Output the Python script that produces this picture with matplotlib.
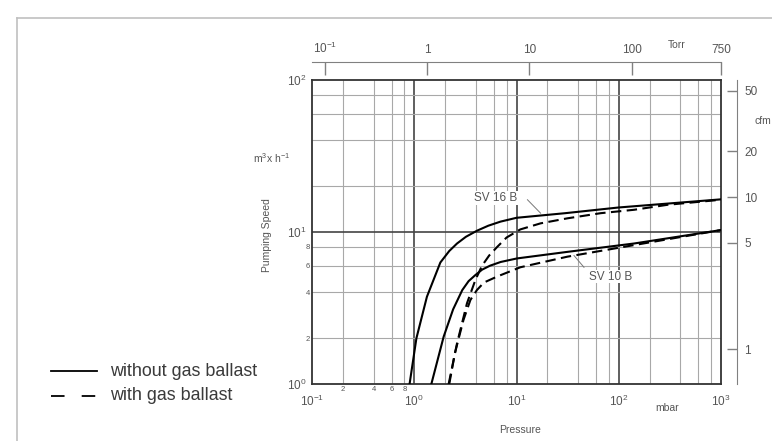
import matplotlib
matplotlib.use("Agg")
import matplotlib.pyplot as plt
from matplotlib.lines import Line2D
from matplotlib.ticker import FixedLocator, FixedFormatter

# ---------------- data ----------------
# pressure in mbar, pumping speed in m3/h
sv16_solid_p = [0.9, 1.05, 1.33, 1.8, 2.2, 2.62, 3.2, 4.11, 5.3, 6.97, 10, 30, 100, 1000]
sv16_solid_s = [1.0, 2.0, 3.75, 6.3, 7.5, 8.4, 9.3, 10.2, 11.0, 11.7, 12.4, 13.3, 14.5, 16.4]
sv16_dash_p = [2.17, 2.62, 3.28, 3.96, 4.6, 5.4, 6.5, 8.0, 10.9, 17.2, 31.4, 66.7, 141, 300, 1000]
sv16_dash_s = [1.0, 1.85, 3.4, 4.83, 6.0, 7.0, 8.0, 9.2, 10.4, 11.4, 12.3, 13.3, 14.0, 15.1, 16.3]
sv10_solid_p = [1.47, 1.94, 2.4, 2.95, 3.4, 3.95, 4.6, 5.5, 7.0, 10.1, 31.4, 141, 1000]
sv10_solid_s = [1.0, 2.05, 3.1, 4.15, 4.75, 5.2, 5.65, 6.0, 6.35, 6.7, 7.4, 8.4, 10.3]
sv10_dash_p = [2.2, 2.5, 3.03, 3.54, 4.1, 4.8, 6.5, 10.9, 31.4, 141, 1000]
sv10_dash_s = [1.0, 1.6, 2.64, 3.57, 4.15, 4.65, 5.1, 5.86, 6.88, 8.2, 10.3]

x_major = [0.1, 1, 10, 100, 1000]
x_major_labels = ["$10^{-1}$", "$10^{0}$", "$10^{1}$", "$10^{2}$", "$10^{3}$"]
x_minor_labeled = [0.2, 0.4, 0.6, 0.8]
x_minor_labels = ["2", "4", "6", "8"]
y_major = [1, 10, 100]
y_major_labels = ["$10^{0}$", "$10^{1}$", "$10^{2}$"]
y_minor_labeled = [2, 4, 6, 8]
y_minor_labels = ["2", "4", "6", "8"]
torr_ticks = [0.1, 1, 10, 100, 750]
torr_labels = ["$10^{-1}$", "1", "10", "100", "750"]
cfm_ticks = [1, 5, 10, 20, 50]
cfm_labels = ["1", "5", "10", "20", "50"]
legend_labels = ["without gas ballast", "with gas ballast"]
MBAR_TO_TORR = 0.750062
M3H_TO_CFM = 0.588578

W, H = 772, 441
plt.rcParams['font.family'] = ['Liberation Sans', 'DejaVu Sans']
plt.rcParams['mathtext.fontset'] = 'custom'
plt.rcParams['mathtext.rm'] = 'Liberation Sans'
plt.rcParams['mathtext.it'] = 'Liberation Sans'
fig = plt.figure(figsize=(W / 100, H / 100), dpi=100)
TXT = "#555555"


def fx(px):
    return px / W


def fy(py):
    return 1 - py / H


# outer frame (left and top)
fig.add_artist(Line2D([fx(17), fx(17)], [fy(18), fy(441)], color="#c0c0c0", lw=1.2))
fig.add_artist(Line2D([fx(17), fx(772)], [fy(18), fy(18)], color="#c0c0c0", lw=1.2))

L, R, T, B = 312, 721, 80, 384
ax = fig.add_axes([fx(L), fy(B), (R - L) / W, (B - T) / H])
ax.set_xscale("log")
ax.set_yscale("log")
ax.set_xlim(0.1, 1000)
ax.set_ylim(1, 100)

# grid
minor_x = [m * 10.0 ** e for e in range(-1, 3) for m in (2, 4, 6, 8)]
minor_y = [m * 10.0 ** e for e in range(0, 2) for m in (2, 4, 6, 8)]
for v in minor_x:
    ax.axvline(v, color="#a8a8a8", lw=0.8, zorder=1)
for v in x_major[1:-1]:
    ax.axvline(v, color="#444444", lw=1.2, zorder=1)
for v in minor_y:
    ax.axhline(v, color="#a8a8a8", lw=0.8, zorder=1)
ax.axhline(10, color="#444444", lw=1.2, zorder=1)
for s in ax.spines.values():
    s.set_color("#333333")
    s.set_linewidth(1.3)

ax.xaxis.set_major_locator(FixedLocator(x_major))
ax.xaxis.set_major_formatter(FixedFormatter(x_major_labels))
ax.xaxis.set_minor_locator(FixedLocator(x_minor_labeled))
ax.xaxis.set_minor_formatter(FixedFormatter(x_minor_labels))
ax.yaxis.set_major_locator(FixedLocator(y_major))
ax.yaxis.set_major_formatter(FixedFormatter(y_major_labels))
ax.yaxis.set_minor_locator(FixedLocator(y_minor_labeled))
ax.yaxis.set_minor_formatter(FixedFormatter(y_minor_labels))
ax.tick_params(axis="x", which="major", length=0, labelsize=8.5, labelcolor=TXT, pad=7)
ax.tick_params(axis="y", which="major", length=0, labelsize=8.5, labelcolor=TXT, pad=4)
ax.tick_params(which="minor", length=0, labelsize=5.5, labelcolor=TXT, pad=1.5)

kw = dict(color="black", lw=1.5, zorder=3)
dash = (0, (5, 2.6))
ax.plot(sv16_solid_p, sv16_solid_s, **kw)
ax.plot(sv16_dash_p, sv16_dash_s, linestyle=dash, **kw)
ax.plot(sv10_solid_p, sv10_solid_s, **kw)
ax.plot(sv10_dash_p, sv10_dash_s, linestyle=dash, **kw)

# curve labels with leader lines
ax.text(6.2, 16.7, "SV 16 B", fontsize=8.5, color=TXT, ha="center", va="center",
        bbox=dict(facecolor="white", edgecolor="none", pad=0.5), zorder=4)
ax.plot([12.8, 17.2], [16.3, 13.3], color="#777777", lw=0.7, zorder=4)
ax.text(84, 5.08, "SV 10 B", fontsize=8.5, color=TXT, ha="center", va="center",
        bbox=dict(facecolor="white", edgecolor="none", pad=0.5), zorder=4)
ax.plot([36.5, 45.7], [7.0, 5.86], color="#777777", lw=0.7, zorder=4)

# top Torr axis
top = ax.secondary_xaxis(1.06, functions=(lambda p: p * MBAR_TO_TORR,
                                          lambda t: t / MBAR_TO_TORR))
top.xaxis.set_major_locator(FixedLocator(torr_ticks))
top.xaxis.set_major_formatter(FixedFormatter(torr_labels))
top.xaxis.set_minor_locator(FixedLocator([]))
top.tick_params(direction="in", length=9.5, width=1, color="#808080",
                labelsize=8.5, labelcolor=TXT, pad=4)
top.spines["top"].set_color("#808080")

# right cfm axis
right = ax.secondary_yaxis(1.04, functions=(lambda s: s * M3H_TO_CFM,
                                            lambda c: c / M3H_TO_CFM))
right.yaxis.set_major_locator(FixedLocator(cfm_ticks))
right.yaxis.set_major_formatter(FixedFormatter(cfm_labels))
right.yaxis.set_minor_locator(FixedLocator([]))
right.tick_params(direction="in", length=7, width=1, color="#808080",
                  labelsize=8.5, labelcolor=TXT, pad=5)
right.spines["right"].set_color("#808080")

# unit / axis labels
fig.text(fx(677), fy(45), "Torr", fontsize=7.5, color=TXT, ha="center", va="center")
fig.text(fx(763), fy(121), "cfm", fontsize=7.5, color=TXT, ha="center", va="center")
fig.text(fx(667), fy(408), "mbar", fontsize=7.5, color=TXT, ha="center", va="center")
fig.text(fx(520), fy(430), "Pressure", fontsize=7.5, color=TXT, ha="center", va="center")
fig.text(fx(272), fy(158), "m$^3$x h$^{-1}$", fontsize=7.5, color=TXT, ha="center", va="center")
fig.text(fx(267), fy(235), "Pumping Speed", fontsize=7.5, color=TXT, ha="center",
         va="center", rotation=90)

# legend (drawn by hand at the reference position)
fig.add_artist(Line2D([fx(51), fx(97)], [fy(371), fy(371)], color="black", lw=1.3))
fig.add_artist(Line2D([fx(51), fx(97)], [fy(396), fy(396)], color="black", lw=1.3,
                      linestyle=(0, (7.5, 9.5))))
fig.text(fx(110), fy(371), legend_labels[0], fontsize=12.9, color="#3a3a3a",
         ha="left", va="center")
fig.text(fx(110), fy(396), legend_labels[1], fontsize=12.9, color="#3a3a3a",
         ha="left", va="center")

fig.savefig("out.png", dpi=100)
